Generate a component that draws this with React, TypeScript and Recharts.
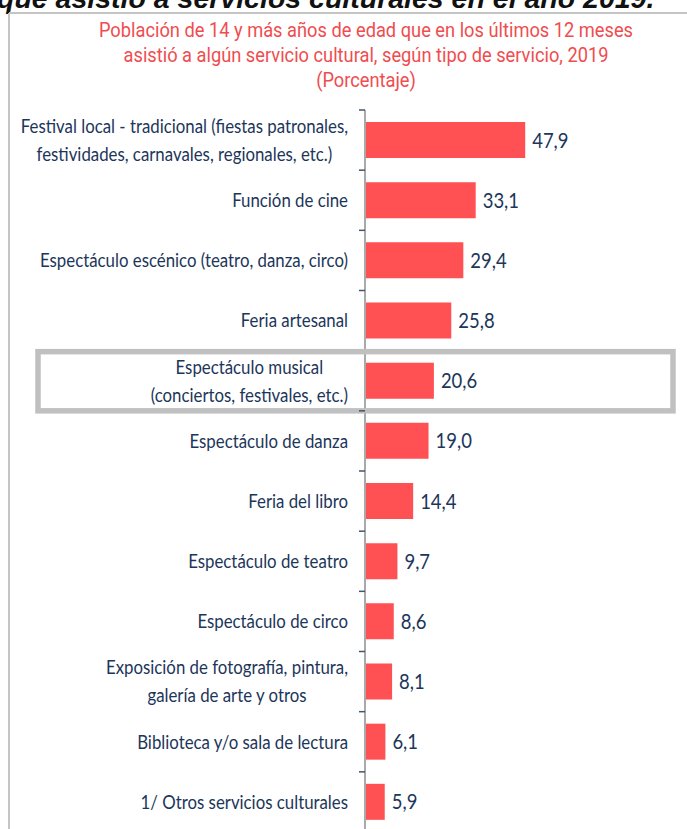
import React from "react";
import { BarChart, Bar, XAxis, YAxis, LabelList } from "recharts";

const categories = [
  "Festival local - tradicional (fiestas patronales,\nfestividades, carnavales, regionales, etc.)",
  "Función de cine",
  "Espectáculo escénico (teatro, danza, circo)",
  "Feria artesanal",
  "Espectáculo musical\n(conciertos, festivales, etc.)",
  "Espectáculo de danza",
  "Feria del libro",
  "Espectáculo de teatro",
  "Espectáculo de circo",
  "Exposición de fotografía, pintura,\ngalería de arte y otros",
  "Biblioteca y/o sala de lectura",
  "1/ Otros servicios culturales",
];
const values = [47.9, 33.1, 29.4, 25.8, 20.6, 19.0, 14.4, 9.7, 8.6, 8.1, 6.1, 5.9];
const highlighted = "Espectáculo musical\n(conciertos, festivales, etc.)";
const titleLines = [
  "Población de 14 y más años de edad que en los últimos 12 meses",
  "asistió a algún servicio cultural, según tipo de servicio, 2019",
  "(Porcentaje)",
];
const topText = "que asistió a servicios culturales en el año 2019.";

const data = categories.map((name, i) => ({ name, value: values[i] }));

const W = 687;
const H = 840;
const MARGIN = { top: 110, right: 21, bottom: 8, left: 0 };
const AXIS_W = 365;
const BAND_HALF = (H - MARGIN.top - MARGIN.bottom) / categories.length / 2;

const LABEL_FONT = "Lato, 'Open Sans', sans-serif";
const LABEL_SIZE = 19;
const LABEL_SX = 0.885;
const VALUE_SIZE = 21;
const VALUE_SX = 0.88;
const TITLE_FONT = "Roboto, sans-serif";
const TITLE_SIZE = 21;
const TITLE_SX = 0.87;
const TEXT_COLOR = "#1c365a";

let canvasCtx: CanvasRenderingContext2D | null = null;
function measure(text: string, size: number, family: string): number {
  if (typeof document === "undefined") return text.length * size * 0.45;
  if (!canvasCtx) {
    const c = document.createElement("canvas");
    canvasCtx = c.getContext("2d");
  }
  if (!canvasCtx) return text.length * size * 0.45;
  canvasCtx.font = `${size}px ${family}`;
  return canvasCtx.measureText(text).width;
}

const CustomTick = (props: any) => {
  const { x, y, payload } = props;
  const lines: string[] = String(payload.value).split("\n");
  const endX = x - 17;
  const maxW = Math.max(...lines.map((l) => measure(l, LABEL_SIZE, LABEL_FONT) * LABEL_SX));
  const cx = endX - maxW / 2;
  const lh = 28;
  const startY = y - ((lines.length - 1) * lh) / 2;
  const isHi = payload.value === highlighted;
  const multi = lines.length > 1;
  return (
    <g>
      <line x1={x - 6} x2={x} y1={y - BAND_HALF} y2={y - BAND_HALF} stroke="#44546a" strokeWidth={1.5} />
      {isHi && (
        <rect
          x={38}
          y={y - BAND_HALF + 1}
          width={W - 38 - 14}
          height={BAND_HALF * 2 - 1}
          fill="none"
          stroke="#c0c0c0"
          strokeWidth={5.5}
        />
      )}
      {lines.map((l, i) => (
        <text
          key={i}
          transform={`translate(${multi ? cx : endX},${startY + i * lh}) scale(${LABEL_SX},1)`}
          dy="0.36em"
          textAnchor={multi ? "middle" : "end"}
          fontFamily={LABEL_FONT}
          fontSize={LABEL_SIZE}
          fill={TEXT_COLOR}
        >
          {l}
        </text>
      ))}
    </g>
  );
};

const ValueLabel = (props: any) => {
  const { x, y, width, height, value } = props;
  const tx = x + width + 7;
  const ty = y + height / 2;
  return (
    <text
      transform={`translate(${tx},${ty}) scale(${VALUE_SX},1)`}
      dy="0.36em"
      textAnchor="start"
      fontFamily={LABEL_FONT}
      fontSize={VALUE_SIZE}
      fill={TEXT_COLOR}
    >
      {Number(value).toFixed(1).replace(".", ",")}
    </text>
  );
};

export default function App() {
  return (
    <div
      style={{
        position: "absolute",
        left: 0,
        top: 0,
        width: W,
        height: 829,
        overflow: "hidden",
        background: "#ffffff",
      }}
    >
      <svg width={W} height={829} style={{ position: "absolute", left: 0, top: 0 }}>
        <text
          x={-3}
          y={8}
          fontFamily="'Liberation Sans', Arial, sans-serif"
          fontStyle="italic"
          fontWeight="bold"
          fontSize={28.5}
          fill="#111"
        >
          {topText}
        </text>
        <line x1={9} x2={W} y1={13} y2={13} stroke="#c4c4c4" strokeWidth={2} />
        <line x1={9} x2={9} y1={13} y2={829} stroke="#c4c4c4" strokeWidth={2} />
        {titleLines.map((t, i) => (
          <text
            key={i}
            transform={`translate(366,${37 + i * 25}) scale(${TITLE_SX},1)`}
            textAnchor="middle"
            fontFamily={TITLE_FONT}
            fontSize={TITLE_SIZE}
            fill="#ef4d4f"
          >
            {t}
          </text>
        ))}
      </svg>
      <div style={{ position: "absolute", left: 0, top: 0 }}>
        <BarChart width={W} height={H} data={data} layout="vertical" margin={MARGIN}>
          <XAxis type="number" domain={[0, 90]} hide />
          <YAxis
            type="category"
            dataKey="name"
            width={AXIS_W}
            interval={0}
            tickSize={0}
            tickMargin={0}
            tickLine={false}
            axisLine={{ stroke: "#a9a9a9", strokeWidth: 2 }}
            tick={<CustomTick />}
          />
          <Bar dataKey="value" fill="#ff5153" barSize={36} isAnimationActive={false}>
            <LabelList dataKey="value" content={<ValueLabel />} />
          </Bar>
        </BarChart>
      </div>
    </div>
  );
}
